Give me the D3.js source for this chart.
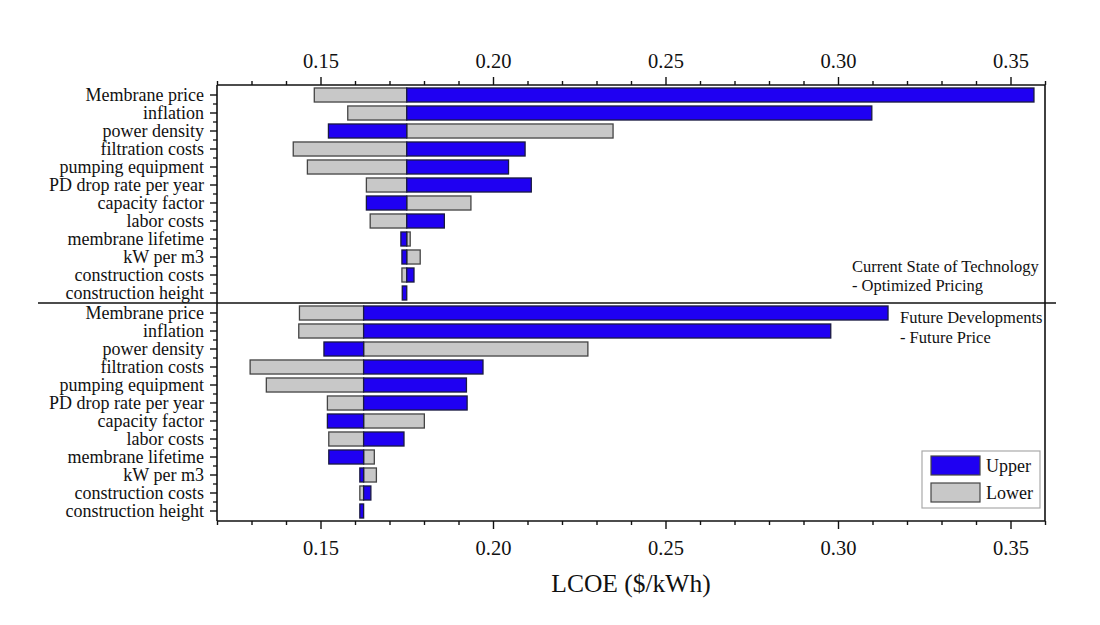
<!DOCTYPE html>
<html>
<head>
<meta charset="utf-8">
<script src="https://cdn.jsdelivr.net/npm/d3@7"></script>
<style>
  html, body { margin: 0; padding: 0; background: #fff; }
  svg { display: block; }
  text { font-family: "Liberation Serif", "Times New Roman", serif; fill: #111; }
</style>
</head>
<body>
<svg id="chart" width="1100" height="625"></svg>
<script>
// ---------- data ----------
const categories = ["Membrane price", "inflation", "power density", "filtration costs",
  "pumping equipment", "PD drop rate per year", "capacity factor", "labor costs",
  "membrane lifetime", "kW per m3", "construction costs", "construction height"];

// Current State of Technology - Optimized Pricing
const currentBase = 0.175;
const currentUpper = [0.3568, 0.3098, 0.1523, 0.2093, 0.2045, 0.2111, 0.1633, 0.1859, 0.1733, 0.1736, 0.1771, 0.1737];
const currentLower = [0.1482, 0.1579, 0.2348, 0.1421, 0.1462, 0.1633, 0.1936, 0.1644, 0.1760, 0.1789, 0.1736, 0.1750];

// Future Developments - Future Price
const futureBase = 0.1625;
const futureUpper = [0.3145, 0.2979, 0.1510, 0.1971, 0.1923, 0.1925, 0.1520, 0.1742, 0.1524, 0.1614, 0.1646, 0.1614];
const futureLower = [0.1439, 0.1437, 0.2275, 0.1296, 0.1343, 0.1520, 0.1801, 0.1524, 0.1656, 0.1662, 0.1614, 0.1625];

const majorTicks = [0.15, 0.20, 0.25, 0.30, 0.35];
const minorTicks = [0.12, 0.13, 0.14, 0.16, 0.17, 0.18, 0.19, 0.21, 0.22, 0.23, 0.24,
  0.26, 0.27, 0.28, 0.29, 0.31, 0.32, 0.33, 0.34, 0.36];
const seriesNames = ["Upper", "Lower"];
const annotTop = ["Current State of Technology", "- Optimized Pricing"];
const annotBottom = ["Future Developments", "- Future Price"];
const xTitle = "LCOE ($/kWh)";

// ---------- layout ----------
const BLUE = "#1f00f2", GRAY = "#c8c8c8";
const pLeft = 217, pRight = 1045, pTop = 85, pMid = 303, pBottom = 521;
const svg = d3.select("#chart");

const x = d3.scaleLinear().domain([0.12, 0.36]).range([pLeft, pRight]);
const yTop = d3.scaleBand().domain(categories).range([86, 302]).paddingInner(0.22).paddingOuter(0.11);
const yBot = d3.scaleBand().domain(categories).range([304, 520]).paddingInner(0.22).paddingOuter(0.11);

function drawPanel(y, base, upper, lower) {
  const g = svg.append("g");
  categories.forEach((c, i) => {
    const lo = lower[i], up = upper[i];
    g.append("rect")
      .attr("x", x(Math.min(lo, base))).attr("y", y(c))
      .attr("width", Math.abs(x(lo) - x(base))).attr("height", y.bandwidth())
      .attr("fill", GRAY).attr("stroke", "#444").attr("stroke-width", 1.3);
    g.append("rect")
      .attr("x", x(Math.min(up, base))).attr("y", y(c))
      .attr("width", Math.abs(x(up) - x(base))).attr("height", y.bandwidth())
      .attr("fill", BLUE).attr("stroke", "#1a1a40").attr("stroke-width", 1.3);
  });
  const ax = svg.append("g").attr("transform", `translate(${pLeft},0)`)
    .call(d3.axisLeft(y).tickSize(7).tickPadding(6));
  ax.select(".domain").remove();
  ax.selectAll("line").attr("stroke", "#111").attr("stroke-width", 1.4);
  ax.selectAll("text").style("font-size", "18px").attr("dy", "0.34em")
    .style("font-family", '"Liberation Serif", serif');
  const step = y.step();
  const gap = (step - y.bandwidth()) / 2;
  categories.slice(1).forEach(c => {
    svg.append("line").attr("x1", pLeft - 4).attr("x2", pLeft)
      .attr("y1", y(c) - gap).attr("y2", y(c) - gap)
      .attr("stroke", "#111").attr("stroke-width", 1.3);
  });
}

drawPanel(yTop, currentBase, currentUpper, currentLower);
drawPanel(yBot, futureBase, futureUpper, futureLower);

function styleAxis(g) {
  g.select(".domain").remove();
  g.selectAll("line").attr("stroke", "#111").attr("stroke-width", 1.4);
  g.selectAll("text").style("font-size", "20.5px").style("font-family", '"Liberation Serif", serif');
}
svg.append("g").attr("transform", `translate(0,${pTop})`)
  .call(d3.axisTop(x).tickValues(majorTicks).tickSize(8).tickPadding(9).tickFormat(d3.format(".2f")))
  .call(styleAxis);
svg.append("g").attr("transform", `translate(0,${pTop})`)
  .call(d3.axisTop(x).tickValues(minorTicks).tickSize(4).tickFormat(""))
  .call(styleAxis);
svg.append("g").attr("transform", `translate(0,${pBottom})`)
  .call(d3.axisBottom(x).tickValues(majorTicks).tickSize(8).tickPadding(11).tickFormat(d3.format(".2f")))
  .call(styleAxis);
svg.append("g").attr("transform", `translate(0,${pBottom})`)
  .call(d3.axisBottom(x).tickValues(minorTicks).tickSize(4).tickFormat(""))
  .call(styleAxis);

const frame = svg.append("g").attr("stroke", "#111").attr("stroke-width", 1.6).attr("fill", "none");
frame.append("line").attr("x1", pLeft).attr("x2", pRight).attr("y1", pTop).attr("y2", pTop);
frame.append("line").attr("x1", pLeft).attr("x2", pRight).attr("y1", pBottom).attr("y2", pBottom);
frame.append("line").attr("x1", pLeft).attr("x2", pLeft).attr("y1", pTop).attr("y2", pBottom);
frame.append("line").attr("x1", pRight).attr("x2", pRight).attr("y1", pTop).attr("y2", pBottom);
frame.append("line").attr("x1", 38).attr("x2", 1056).attr("y1", pMid).attr("y2", pMid);

svg.append("text").attr("x", (pLeft + pRight) / 2).attr("y", 592)
  .attr("text-anchor", "middle").style("font-size", "25.5px").text(xTitle);

annotTop.forEach((t, i) => {
  svg.append("text").attr("x", 852).attr("y", 272 + i * 19).style("font-size", "16.5px").text(t);
});
annotBottom.forEach((t, i) => {
  svg.append("text").attr("x", 900).attr("y", 323 + i * 20).style("font-size", "16.5px").text(t);
});

const lg = svg.append("g");
lg.append("rect").attr("x", 922).attr("y", 451).attr("width", 118).attr("height", 57)
  .attr("fill", "#fff").attr("stroke", "#aaa").attr("stroke-width", 1.2);
const legColors = [BLUE, GRAY];
seriesNames.forEach((n, i) => {
  lg.append("rect").attr("x", 931).attr("y", 456 + i * 27).attr("width", 49).attr("height", 19)
    .attr("fill", legColors[i]).attr("stroke", "#444").attr("stroke-width", 1.2);
  lg.append("text").attr("x", 986).attr("y", 472 + i * 27).style("font-size", "18px").text(n);
});
</script>
</body>
</html>
